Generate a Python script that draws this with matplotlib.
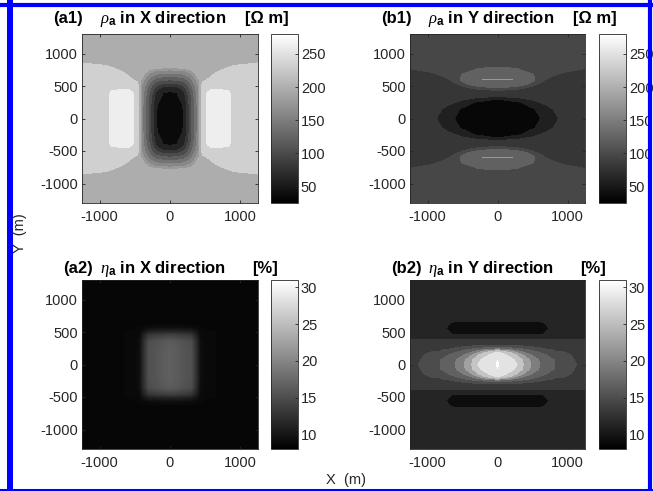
import numpy as np
import matplotlib
matplotlib.use('Agg')
import matplotlib.pyplot as plt
from matplotlib.colors import Normalize
from matplotlib.cm import ScalarMappable
from matplotlib.lines import Line2D

plt.rcParams['font.family'] = 'Liberation Sans'
plt.rcParams['axes.unicode_minus'] = False
plt.rcParams['mathtext.fontset'] = 'custom'
plt.rcParams['mathtext.rm'] = 'Liberation Sans'
plt.rcParams['mathtext.it'] = 'Liberation Serif:italic'
plt.rcParams['mathtext.bf'] = 'Liberation Sans:bold'

# Quadrant grids (x >= 0, y >= 0); the maps are symmetric
# (a1) rho_a, X direction
a1_x = [0, 100, 200, 300, 400, 470, 530, 580, 700, 820, 880, 950, 1100, 1250]
a1_y = [0, 200, 350, 400, 450, 500, 560, 600, 650, 700, 750, 800, 850, 900, 1300]
a1_z = [
    [40, 42, 50.5, 104, 158, 232, 264, 264, 264, 264, 252, 232, 232, 232],
    [43, 44, 51.4, 104.7, 158.7, 232, 264, 264, 264, 264, 252, 232, 232, 232],
    [47, 48, 60.8, 109, 161, 232, 264, 264, 264, 264, 252, 232, 232, 232],
    [49, 49.5, 68, 113, 163, 232, 256, 264, 264, 262, 245, 232, 232, 232],
    [54, 56.7, 78, 118, 166, 232, 238, 253, 253, 252, 235, 232, 232, 232],
    [73.5, 75.6, 90.5, 125.6, 170, 228, 232, 232, 232, 232, 232, 232, 232, 232],
    [97, 98.6, 108, 136.4, 177, 212, 225, 232, 232, 232, 232, 232, 232, 232],
    [112.6, 114, 121.5, 145, 182, 200, 211, 228, 232, 232, 232, 232, 232, 232],
    [132, 133.7, 138, 158, 192, 195, 195, 208, 232, 232, 232, 232, 232, 232],
    [151.8, 153, 156.6, 171.5, 195, 195, 195, 195, 225, 232, 232, 232, 232, 232],
    [171, 173, 175, 186, 195, 195, 195, 195, 200, 228, 232, 232, 232, 232],
    [195, 195, 195, 195, 195, 195, 195, 195, 195, 203, 212, 220, 232, 232],
    [195, 195, 195, 195, 195, 195, 195, 195, 195, 195, 195, 196, 202, 212],
    [195, 195, 195, 195, 195, 195, 195, 195, 195, 195, 195, 195, 195, 195],
    [195, 195, 195, 195, 195, 195, 195, 195, 195, 195, 195, 195, 195, 195],
]
a1_levels = [20, 50, 70, 90, 110, 130, 150, 170, 185, 210, 255, 270]

# (b1) rho_a, Y direction
b1_x = [0, 200, 300, 400, 500, 600, 700, 800, 950, 1100, 1250]
b1_y = [0, 150, 250, 300, 340, 400, 450, 480, 530, 585, 600, 615, 680, 740, 800, 1000, 1300]
b1_z = [
    [30, 30, 31, 33, 37, 43.5, 52.7, 62.3, 78, 79, 79],
    [30, 31, 33, 36, 42, 51, 61, 71, 79, 79, 79],
    [32, 38, 43, 50.6, 60.5, 70.5, 77, 79, 79, 79, 79],
    [45.5, 57, 63, 69, 75, 79, 79, 79, 79, 79, 79],
    [70.5, 76, 78, 79, 79, 79, 79, 79, 79, 79, 79],
    [80, 80, 80, 80, 79, 79, 79, 79, 79, 79, 79],
    [93, 89, 87, 82, 79, 79, 79, 79, 79, 79, 79],
    [108, 102, 97, 90, 82, 79, 79, 79, 79, 79, 79],
    [122, 122, 118, 108, 97, 84, 79, 79, 79, 79, 79],
    [130, 130, 124, 120, 108, 96, 84, 79, 79, 79, 79],
    [146, 143, 124, 121, 110, 96, 86, 79, 79, 79, 79],
    [130, 130, 124, 121, 110, 96, 90, 79, 79, 79, 79],
    [122, 122, 120, 116, 106, 96, 96, 93, 81, 79, 79],
    [120, 116, 110, 100, 96, 96, 96, 96, 94, 88.5, 82],
    [100, 98, 96, 96, 96, 96, 96, 96, 96, 96, 95],
    [96, 96, 96, 96, 96, 96, 96, 96, 96, 96, 96],
    [96, 96, 96, 96, 96, 96, 96, 96, 96, 96, 96],
]
b1_levels = [20, 45, 70, 88, 105, 140, 215]

# (a2) eta_a, X direction
a2_x = [0, 100, 200, 300, 370, 430, 500, 800, 1250]
a2_y = [0, 200, 350, 450, 500, 560, 620, 750, 900, 1300]
a2_z = [
    [16.6, 16.2, 15.6, 15.2, 12.2, 9.3, 8.8, 8.7, 8.7],
    [16.6, 16.2, 15.6, 15.2, 12.2, 9.3, 8.8, 8.7, 8.7],
    [16.2, 15.9, 15.3, 14.9, 12.0, 9.2, 8.8, 8.7, 8.7],
    [13.8, 13.6, 13.3, 12.9, 10.9, 9.0, 8.8, 8.7, 8.7],
    [11.5, 11.4, 11.2, 10.9, 9.9, 8.9, 8.8, 8.7, 8.7],
    [9.4, 9.4, 9.3, 9.2, 8.9, 8.8, 8.7, 8.7, 8.7],
    [8.7, 8.7, 8.7, 8.7, 8.7, 8.7, 8.7, 8.7, 8.7],
    [8.55, 8.55, 8.6, 8.7, 8.7, 8.7, 8.7, 8.7, 8.7],
    [8.7, 8.7, 8.7, 8.7, 8.7, 8.7, 8.7, 8.7, 8.7],
    [8.7, 8.7, 8.7, 8.7, 8.7, 8.7, 8.7, 8.7, 8.7],
]
a2_levels = np.arange(8, 31.5, 0.25)

# (b2) eta_a, Y direction
b2_x = [0, 20, 200, 290, 370, 480, 600, 700, 830, 1150, 1250]
b2_y = [0, 70, 150, 190, 210, 225, 240, 265, 300, 380, 396, 450, 470, 560, 650, 670, 1300]
b2_z = [
    [31.5, 29.3, 28.3, 27.3, 23.9, 20.9, 17.7, 16.9, 15.7, 13.9, 13.3],
    [29.3, 28.8, 28.0, 26.6, 23.4, 20.4, 17.6, 16.8, 15.6, 13.7, 13.3],
    [28.5, 28.5, 26.5, 23.1, 20.7, 17.7, 16.6, 15.7, 15.0, 13.5, 13.3],
    [27.3, 27.2, 22.7, 20.0, 17.8, 16.7, 15.7, 15.1, 14.4, 13.4, 13.2],
    [23.9, 23.8, 20.2, 17.8, 17.1, 16.0, 15.3, 14.7, 13.9, 13.3, 13.2],
    [20.9, 20.8, 17.9, 17.1, 16.4, 15.6, 14.9, 14.3, 13.8, 13.2, 13.2],
    [17.7, 17.7, 16.7, 16.1, 15.7, 15.1, 14.5, 13.9, 13.6, 13.2, 13.2],
    [15.7, 15.7, 15.1, 14.8, 14.6, 14.2, 13.8, 13.6, 13.3, 13.2, 13.2],
    [13.9, 13.9, 13.7, 13.6, 13.5, 13.4, 13.3, 13.3, 13.2, 13.2, 13.2],
    [13.2, 13.2, 13.2, 13.2, 13.2, 13.2, 13.2, 13.2, 13.2, 13.2, 13.2],
    [11.4, 11.4, 11.4, 11.4, 11.4, 11.4, 11.4, 11.4, 11.4, 11.4, 11.4],
    [11.4, 11.4, 11.4, 11.4, 11.4, 11.4, 11.4, 11.4, 11.4, 11.4, 11.4],
    [9.3, 9.3, 9.3, 9.3, 9.3, 9.3, 10.0, 10.8, 11.4, 11.4, 11.4],
    [9.3, 9.3, 9.3, 9.3, 9.3, 9.3, 9.3, 10.2, 11.4, 11.4, 11.4],
    [9.3, 9.3, 9.3, 9.3, 9.3, 9.3, 10.0, 10.8, 11.4, 11.4, 11.4],
    [11.4, 11.4, 11.4, 11.4, 11.4, 11.4, 11.4, 11.4, 11.4, 11.4, 11.4],
    [11.4, 11.4, 11.4, 11.4, 11.4, 11.4, 11.4, 11.4, 11.4, 11.4, 11.4],
]
b2_levels = [8, 10.5, 12.3, 14, 15.8, 17.8, 21, 24, 27.4, 29.5, 33]

rho_range = (25, 280)
eta_range = (8, 31)
rho_ticks = [50, 100, 150, 200, 250]
eta_ticks = [10, 15, 20, 25, 30]
xy_ticks_x = [-1000, 0, 1000]
xy_ticks_y = [-1000, -500, 0, 500, 1000]

title_tags = ['(a1)', '(b1)', '(a2)', '(b2)']
title_names = [
    r'$\rho_{\mathbf{a}}$ in X direction',
    r'$\rho_{\mathbf{a}}$ in Y direction',
    r'$\eta_{\mathbf{a}}$ in X direction',
    r'$\eta_{\mathbf{a}}$ in Y direction',
]
title_units = ['[Ω m]', '[Ω m]', '[%]', '[%]']


def mirror(xq, yq, zq):
    xq = np.asarray(xq, float)
    yq = np.asarray(yq, float)
    z = np.asarray(zq, float)
    x = np.concatenate([-xq[:0:-1], xq])
    y = np.concatenate([-yq[:0:-1], yq])
    z = np.hstack([z[:, :0:-1], z])
    z = np.vstack([z[:0:-1], z])
    return x, y, z


W, H = 653, 491


def rect(l, t, r, b):
    return [l / W, 1 - b / H, (r - l) / W, (b - t) / H]


fig = plt.figure(figsize=(W / 100, H / 100), dpi=100)

# axes box, colorbar box, title baseline, tag offset, unit right offset (pixels)
panels = [
    (a1_x, a1_y, a1_z, a1_levels, rho_range, rho_ticks, (82, 34, 258, 203), (271, 34, 298, 203), 23, -29, 207),
    (b1_x, b1_y, b1_z, b1_levels, rho_range, rho_ticks, (410, 34, 585, 203), (599, 34, 626, 203), 23, -29, 207),
    (a2_x, a2_y, a2_z, a2_levels, eta_range, eta_ticks, (82, 280, 258, 449), (271, 280, 298, 449), 273, -19, 196),
    (b2_x, b2_y, b2_z, b2_levels, eta_range, eta_ticks, (410, 280, 585, 449), (599, 280, 626, 449), 273, -19, 196),
]

edge = '#262626'
for i, (xq, yq, zq, lev, rng, cticks, apos, cpos, tbase, tag_dx, unit_dx) in enumerate(panels):
    ax = fig.add_axes(rect(*apos))
    x, y, z = mirror(xq, yq, zq)
    norm = Normalize(*rng)
    ax.contourf(x, y, z, levels=lev, cmap='gray', norm=norm, antialiased=False)
    ax.set_xlim(-1250, 1250)
    ax.set_ylim(-1300, 1300)
    ax.set_xticks(xy_ticks_x)
    ax.set_yticks(xy_ticks_y)
    ax.tick_params(direction='in', length=2.5, width=0.6, labelsize=10.5,
                   top=True, right=True, colors=edge, labelcolor='#262626')
    ax.tick_params(axis='x', pad=5)
    ax.tick_params(axis='y', pad=3)
    for s in ax.spines.values():
        s.set_color(edge)
        s.set_linewidth(0.6)

    left = apos[0]
    ty = 1 - tbase / H
    tkw = dict(fontsize=12, fontweight='bold', va='baseline', color='black')
    fig.text((left + tag_dx) / W, ty, title_tags[i], ha='left', **tkw)
    fig.text((left + 18) / W, ty, title_names[i], ha='left', **tkw)
    fig.text((left + unit_dx) / W, ty, title_units[i], ha='right', **tkw)

    cax = fig.add_axes(rect(*cpos))
    cb = fig.colorbar(ScalarMappable(norm=norm, cmap='gray'), cax=cax)
    cb.set_ticks(cticks)
    cb.ax.tick_params(direction='in', length=2.5, width=0.6, labelsize=10.5,
                      colors=edge, labelcolor='#262626', pad=2)
    cb.outline.set_edgecolor(edge)
    cb.outline.set_linewidth(0.6)

fig.text(20 / W, 1 - 233 / H, 'Y  (m)', rotation=90, ha='center', va='center',
         fontsize=10.5, color='#262626')
fig.text(346 / W, 1 - 480 / H, 'X  (m)', ha='center', va='center',
         fontsize=10.5, color='#262626')

# blue frame around the picture
blue = '#0000ff'
fig.add_artist(Line2D([10 / W, 10 / W], [0, 1], color=blue, lw=4.3, transform=fig.transFigure))
fig.add_artist(Line2D([0, 1], [1 - 5 / H, 1 - 5 / H], color=blue, lw=3.0, transform=fig.transFigure))
fig.add_artist(Line2D([0, 1], [1 - 489.5 / H, 1 - 489.5 / H], color=blue, lw=2.2, transform=fig.transFigure))
fig.add_artist(Line2D([650 / W, 650 / W], [0, 1], color=blue, lw=3.0, transform=fig.transFigure))

fig.savefig('out.png', dpi=100)
